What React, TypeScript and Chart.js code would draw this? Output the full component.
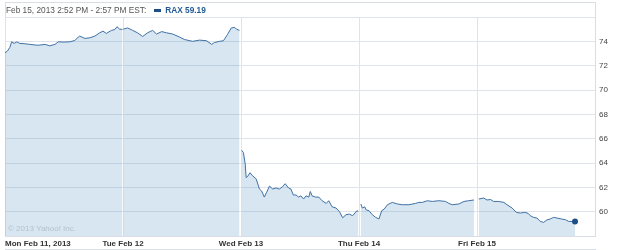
import React, { useEffect, useRef } from "react";
import { Chart, registerables } from "chart.js";
Chart.register(...registerables);

// ---- data ----
const dayLabels = ["Mon Feb 11, 2013", "Tue Feb 12", "Wed Feb 13", "Thu Feb 14", "Fri Feb 15"];
const sessionMinutes = 390; // 9:30 - 16:00
const yMin = 58;
const yMax = 76;
const yStep = 2;

const monMinutes = [0, 8, 16, 22, 30, 39, 49, 66, 82, 99, 110, 132, 148, 165, 176, 192, 214, 231, 242, 247, 264, 280, 297, 313, 324, 335, 352, 363, 370, 379, 388];
const monPrices = [73.06, 73.2, 73.5, 73.96, 73.83, 73.95, 73.83, 73.8, 73.75, 73.7, 73.68, 73.75, 73.63, 73.75, 73.96, 73.94, 73.96, 74.07, 74.35, 74.43, 74.24, 74.29, 74.43, 74.7, 74.84, 74.65, 74.9, 74.97, 75.2, 75.0, 74.98];

const tueMinutes = [1, 15, 32, 48, 65, 81, 98, 111, 128, 144, 164, 187, 203, 230, 253, 276, 293, 302, 319, 332, 345, 358, 369, 375, 385];
const tuePrices = [75.0, 75.1, 74.9, 74.7, 74.4, 74.7, 74.9, 74.6, 74.8, 74.7, 74.6, 74.35, 74.15, 74.0, 74.1, 74.05, 73.75, 73.9, 74.0, 74.05, 74.55, 75.1, 75.15, 75.0, 74.9];

const wedMinutes = [2, 8, 14, 17, 21, 30, 38, 50, 61, 68, 77, 85, 94, 105, 116, 127, 137, 146, 157, 165, 173, 182, 190, 198, 207, 215, 224, 229, 235, 246, 257, 268, 282, 290, 301, 314, 325, 336, 347, 358, 369, 383, 388];
const wedPrices = [65.05, 64.86, 63.9, 62.8, 62.87, 63.2, 62.95, 62.7, 61.86, 61.7, 61.2, 61.6, 62.1, 61.86, 61.95, 61.86, 62.05, 62.3, 61.95, 61.86, 61.37, 61.37, 61.2, 61.3, 61.04, 61.3, 61.2, 61.66, 61.3, 61.2, 61.2, 60.9, 60.68, 60.9, 60.4, 60.3, 60.02, 59.5, 59.75, 59.8, 59.67, 60.08, 60.02];

const thuMinutes = [6, 11, 19, 24, 33, 44, 55, 66, 75, 83, 94, 110, 127, 143, 165, 187, 198, 209, 226, 242, 264, 286, 297, 308, 330, 347, 363, 380];
const thuPrices = [60.63, 60.3, 60.4, 60.14, 60.08, 59.75, 59.53, 59.4, 60.08, 60.2, 60.57, 60.76, 60.63, 60.57, 60.57, 60.68, 60.76, 60.76, 60.9, 60.84, 60.9, 60.84, 60.68, 60.57, 60.63, 60.84, 60.9, 60.96];

const friMinutes = [6, 22, 33, 45, 55, 72, 89, 99, 116, 130, 143, 158, 169, 176, 187, 198, 209, 220, 231, 242, 253, 264, 279, 292, 303, 324];
const friPrices = [61.04, 61.12, 60.96, 61.0, 60.84, 60.84, 60.76, 60.57, 60.3, 59.94, 59.89, 59.94, 59.86, 59.67, 59.53, 59.48, 59.2, 59.12, 59.32, 59.4, 59.53, 59.48, 59.4, 59.34, 59.2, 59.19];

const days: [number[], number[]][] = [
  [monMinutes, monPrices],
  [tueMinutes, tuePrices],
  [wedMinutes, wedPrices],
  [thuMinutes, thuPrices],
  [friMinutes, friPrices],
];

function buildPoints() {
  const pts: { x: number; y: number | null }[] = [];
  days.forEach(([mins, prices], d) => {
    if (d > 0) pts.push({ x: d, y: null });
    mins.forEach((m, i) => pts.push({ x: d + m / sessionMinutes, y: prices[i] }));
  });
  return pts;
}

const FONT = "'Liberation Sans', Arial, sans-serif";
const GRID = "#dfe4ea";
const FRAME = "#d9dee4";

const labelsPlugin = {
  id: "yahooLabels",
  afterDatasetsDraw(chart: any) {
    const { ctx, chartArea } = chart;
    ctx.save();
    ctx.font = `8px ${FONT}`;
    ctx.fillStyle = "#b3c1cd";
    ctx.textAlign = "left";
    ctx.textBaseline = "alphabetic";
    ctx.fillText("© 2013 Yahoo! Inc.", chartArea.left + 3, chartArea.bottom - 5);
    ctx.restore();
  },
  afterDraw(chart: any) {
    const { ctx } = chart;
    const xs = chart.scales.x;
    ctx.save();
    ctx.font = `bold 8px ${FONT}`;
    ctx.fillStyle = "#333333";
    ctx.textBaseline = "alphabetic";
    dayLabels.forEach((lab, i) => {
      const px = xs.getPixelForValue(i);
      ctx.textAlign = i === 0 ? "left" : "center";
      ctx.fillText(lab, i === 0 ? px : px, 246);
    });
    ctx.restore();
  },
};

export default function App() {
  const ref = useRef<HTMLCanvasElement>(null);
  useEffect(() => {
    if (!ref.current) return;
    const points = buildPoints();
    const lastIndex = points.length - 1;
    const chart = new Chart(ref.current, {
      type: "line",
      data: {
        datasets: [
          {
            label: "RAX",
            data: points as any,
            borderColor: "#3f71a5",
            borderWidth: 1,
            backgroundColor: "rgba(74,140,190,0.22)",
            fill: "start",
            tension: 0,
            spanGaps: false,
            pointRadius: (c: any) => (c.dataIndex === lastIndex ? 3 : 0),
            pointBackgroundColor: "#1c4f87",
            pointBorderColor: "#1c4f87",
            pointBorderWidth: 0,
            pointHoverRadius: 0,
          },
        ],
      },
      options: {
        animation: false,
        responsive: false,
        maintainAspectRatio: false,
        events: [],
        layout: { padding: { left: 5, top: 17, right: 0, bottom: 0 } },
        plugins: {
          legend: { display: false },
          title: { display: false },
          tooltip: { enabled: false },
        },
        scales: {
          x: {
            type: "linear",
            min: 0,
            max: dayLabels.length,
            afterFit: (s: any) => {
              s.height = 14;
            },
            ticks: { display: false, stepSize: 1 },
            grid: { color: GRID, drawTicks: false, lineWidth: 1 },
            border: { display: true, color: FRAME },
          },
          y: {
            position: "right",
            min: yMin,
            max: yMax,
            afterFit: (s: any) => {
              s.width = 30;
            },
            ticks: {
              stepSize: yStep,
              padding: 4,
              color: "#444444",
              font: { family: FONT, size: 8 },
              callback: (v: any) => (v === yMin || v === yMax ? "" : String(v)),
            },
            grid: { color: GRID, drawTicks: false, lineWidth: 1 },
            border: { display: true, color: FRAME },
          },
        },
      },
      plugins: [labelsPlugin],
    });
    return () => chart.destroy();
  }, []);

  return (
    <div style={{ position: "absolute", left: 0, top: 0, width: 625, height: 250, background: "#fff" }}>
      <canvas ref={ref} width={625} height={250} style={{ display: "block", width: 625, height: 250 }} />
      <div
        style={{
          position: "absolute",
          left: 5,
          top: 2,
          width: 591,
          height: 15,
          boxSizing: "border-box",
          borderTop: `1px solid ${FRAME}`,
          borderLeft: `1px solid ${FRAME}`,
          borderRight: `1px solid ${FRAME}`,
        }}
      />
      <div
        style={{
          position: "absolute",
          left: 6,
          top: 3,
          height: 14,
          lineHeight: "14px",
          fontFamily: FONT,
          fontSize: "8.3px",
          color: "#555",
          whiteSpace: "nowrap",
          display: "flex",
          alignItems: "center",
        }}
      >
        <span>Feb 15, 2013 2:52 PM - 2:57 PM EST:</span>
        <span
          style={{
            display: "inline-block",
            width: 7,
            height: 3,
            background: "#1c4f87",
            marginLeft: 8,
            marginRight: 4,
          }}
        />
        <span style={{ color: "#1f5a96", fontWeight: "bold" }}>RAX 59.19</span>
      </div>
      <div style={{ position: "absolute", left: 5, top: 249, width: 591, height: 1, background: FRAME }} />
    </div>
  );
}
